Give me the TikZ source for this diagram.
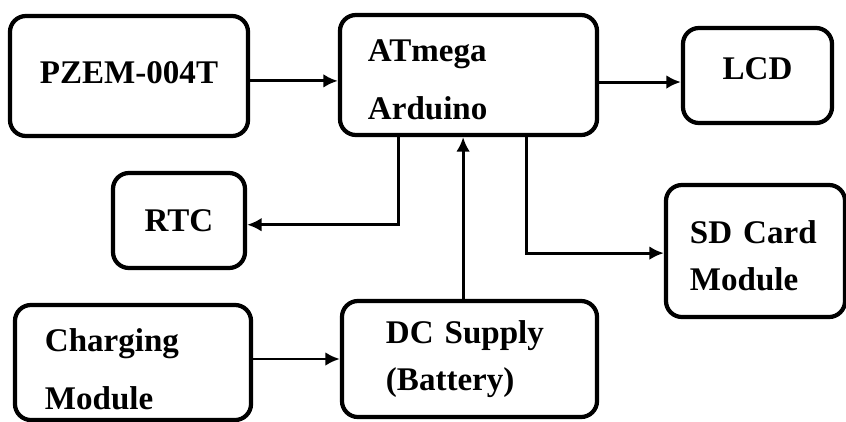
\documentclass[tikz,border=0pt]{standalone}
\usepackage{fontspec}
\setmainfont{Liberation Serif}
\usetikzlibrary{arrows.meta,positioning}

\begin{document}
\begin{tikzpicture}[x=0.025cm, y=-0.025cm,
    block/.style={draw, line width=3pt, rounded corners=0.4cm, inner sep=0pt,
      font=\fontsize{23.5}{33}\selectfont\bfseries},
    arr/.style={-{Latex[length=3.6mm,width=3.4mm]}, line width=2.1pt}]
        \useasboundingbox (0,0) rectangle (846,421);
        % top row
        \node[block, minimum width=5.95cm, minimum height=3cm, text depth=5.6pt] (pzem) at (129,76) {PZEM-004T};
        \node[block, minimum width=6.425cm, minimum height=3cm, text width=5.025cm,
          inner xsep=0.7cm, align=left] (atmega) at (468.5,75) {\rule{0pt}{22.6pt}ATmega\\[8pt]Arduino};
        \node[block, minimum width=3.725cm, minimum height=2.375cm, text depth=10pt] (lcd) at (757.5,75.5) {LCD};
        % middle row
        \node[block, minimum width=3.3cm, minimum height=2.375cm] (rtc) at (179,220.5) {RTC};
        \node[block, minimum width=4.475cm, minimum height=3.3cm, text width=3.275cm,
          inner xsep=0.6cm, align=left] (sd) at (755.5,251) {\rule{0pt}{22.9pt}SD Card\\Module};
        % bottom row
        \node[block, minimum width=5.9cm, minimum height=2.875cm, text width=4.4cm,
          inner xsep=0.75cm, align=left] (chg) at (133,362.5) {\rule{0pt}{25.9pt}Charging\\[8pt]Module};
        \node[block, minimum width=6.375cm, minimum height=2.9cm, text width=4.175cm,
          inner xsep=1.1cm, align=left] (dc) at (469.5,359) {DC Supply\\(Battery)};
        % connections
        \draw[arr] ([yshift=-3.5pt]pzem.east) -- ([yshift=-3.5pt]pzem.east -| atmega.west);
        \draw[arr] ([yshift=-5pt]atmega.east) -- ([yshift=-5pt]atmega.east -| lcd.west);
        \draw[arr] ([xshift=-1.76cm]atmega.south) |- ([yshift=-3pt]rtc.east);
        \draw[arr] ([xshift=1.44cm]atmega.south) |- ([yshift=-1.5pt]sd.west);
        \draw[arr] ([xshift=-1.6mm]dc.north) -- ([xshift=-1.6mm]dc.north |- atmega.south);
        \draw[arr] (dc.west -| chg.east) -- (dc.west);
      \end{tikzpicture}
\end{document}
